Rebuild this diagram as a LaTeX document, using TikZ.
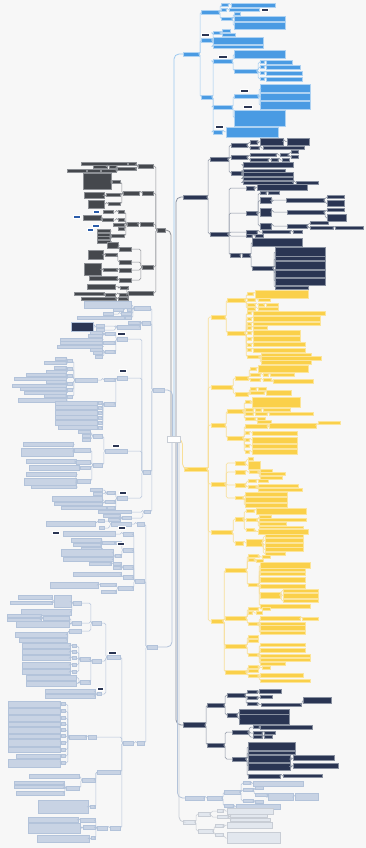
\documentclass[tikz,border=0pt]{standalone}
\usepackage{tikz}
\usetikzlibrary{calc,positioning}

\definecolor{xbg}{HTML}{F7F7F7}
\definecolor{xblue}{HTML}{4A9BE3}
\definecolor{xbluel}{HTML}{9CC9F0}
\definecolor{xnavy}{HTML}{2A3553}
\definecolor{xnavyl}{HTML}{8890A0}
\definecolor{xgold}{HTML}{FAD04A}
\definecolor{xgoldl}{HTML}{F8DF98}
\definecolor{xdark}{HTML}{45484D}
\definecolor{xdarkl}{HTML}{8C8F94}
\definecolor{xpale}{HTML}{C8D3E4}
\definecolor{xpalel}{HTML}{B3C3DA}
\definecolor{xgray}{HTML}{E2E7EE}
\definecolor{xgrayl}{HTML}{C8CDD5}
\definecolor{xtagb}{HTML}{2A5CAA}

\tikzset{
  box/.style={rectangle,inner sep=0pt,outer sep=0pt,line width=0.3pt},
  bl/.style={box,fill=xblue,draw=white!55!xblue},
  bll/.style={draw=xbluel,line width=0.5pt,rounded corners=1.5pt},
  nv/.style={box,fill=xnavy,draw=xnavyl},
  nvl/.style={draw=xnavyl,line width=0.5pt,rounded corners=1.5pt},
  gd/.style={box,fill=xgold,draw=white!45!xgold},
  gdl/.style={draw=xgoldl,line width=0.6pt,rounded corners=1.5pt},
  dk/.style={box,fill=xdark,draw=xdarkl},
  dkl/.style={draw=xdarkl,line width=0.5pt,rounded corners=1.5pt},
  lb/.style={box,fill=xpale,draw=xpalel},
  lbl/.style={draw=xpalel,line width=0.5pt,rounded corners=1.5pt},
  lbn/.style={box,fill=xnavy,draw=xpalel},
  lbnl/.style={lbl},
  gy/.style={box,fill=xgray,draw=xgrayl},
  gyl/.style={draw=xgrayl,line width=0.5pt,rounded corners=1.5pt},
  tag/.style={box,fill=xnavy,draw=white,minimum height=3},
  btag/.style={box,fill=xtagb,draw=white,minimum height=3},
  rootbox/.style={box,fill=white,draw=xgrayl,minimum width=13,minimum height=6},
  trunk/.style={line width=0.8pt,rounded corners=5pt}
}

% one box, left edge at x / right edge at x
\newcommand{\bx}[6]{\node[#1,minimum width=#5,minimum height=#6,anchor=west] (#2) at (#3,#4) {};}
\newcommand{\bxl}[6]{\node[#1,minimum width=#5,minimum height=#6,anchor=east] (#2) at (#3,#4) {};}
% children to the right: style, parent, prefix, left x, {y/width/height}
\newcommand{\rk}[5]{%
  \foreach \yy/\ww/\hh [count=\k] in {#5}{%
    \node[#1,minimum width=\ww,minimum height=\hh,anchor=west] (#3\k) at (#4,\yy) {};
    \draw[#1l] (#2.east) -- ++(1.2,0) |- (#3\k.west);}}
% children to the left: style, parent, prefix, right x, {y/width/height}
\newcommand{\lk}[5]{%
  \foreach \yy/\ww/\hh [count=\k] in {#5}{%
    \node[#1,minimum width=\ww,minimum height=\hh,anchor=east] (#3\k) at (#4,\yy) {};
    \draw[#1l] (#2.west) -- ++(-1.2,0) |- (#3\k.east);}}

\begin{document}
\begin{tikzpicture}[x=1pt,y=-1pt]
\fill[xbg] (0,0) rectangle (366,848);
\useasboundingbox (0,0) rectangle (366,848);

\coordinate (rc) at (174,439);

% main branches
\bx{bl}{B}{183}{54}{16}{4}
\bx{nv}{N}{183}{197}{24}{4}
\bx{gd}{G}{184}{469}{23}{4}
\bx{nv}{M}{183}{725}{22}{5}
\bx{lb}{R}{185}{798}{19}{4}
\bx{gy}{Q}{183}{822}{12}{4}
\bxl{dk}{D}{165}{230}{8}{4}
\bxl{lb}{P}{164}{390}{11}{4}
\bxl{lb}{PP}{157}{647}{10}{4}

\draw[bll,trunk] ([yshift=-3pt]rc) |- (B.west);
\draw[nvl,trunk] ([shift={(2,-3)}]rc) |- (N.west);
\draw[gdl,trunk] ([xshift=6.5pt]rc) -- ++(2,0) |- (G.west);
\draw[nvl,trunk] ([shift={(2,3)}]rc) |- (M.west);
\draw[lbl,trunk] ([shift={(3.5,3)}]rc) |- (R.west);
\draw[gyl,trunk] ([shift={(5,3)}]rc) |- (Q.west);
\draw[dkl,trunk] ([shift={(-3,-3)}]rc) |- (D.east);
\draw[lbl,trunk] ([shift={(-1.5,-3)}]rc) |- (P.east);
\draw[lbl,trunk] ([shift={(-2,3)}]rc) |- (PP.east);
\node[rootbox] (root) at (rc) {};

% blue branch
\rk{bl}{B}{b}{201}{12/18/4, 40/11/4, 97/11/4}
\rk{bl}{b1}{ba}{221}{5/7/3, 10/5/3, 19/11/3}
\rk{bl}{ba1}{baa}{231}{5/44/4}
\rk{bl}{ba2}{bab}{229}{10/30/3}
\rk{bl}{ba3}{bac}{234}{14/6/3, 19/51/5, 26/51/7}
\rk{bl}{b2}{bb}{213}{33/7/3, 41/50/7, 46.5/50/3}
\rk{bl}{bb1}{bba}{222}{31/8/3, 35/13/3}
\rk{bl}{b3}{bc}{213}{61/19/4, 107/19/4, 132/9/4}
\rk{bl}{bc1}{bca}{234}{54/51/8, 71/23/4}
\rk{bl}{bca2}{bcb}{260}{62/4/3, 67/4/3, 73/4/3, 79/4/3}
\rk{bl}{bcb1}{bcc}{266}{62/26/4}
\rk{bl}{bcb2}{bcd}{266}{67/34/4}
\rk{bl}{bcb3}{bce}{266}{73/36/4}
\rk{bl}{bcb4}{bcf}{266}{79/36/4}
\rk{bl}{bc2}{bcg}{234}{96/24/4, 118/51/16}
\rk{bl}{bcg1}{bch}{260}{88.5/50/8, 97/50/7, 105.5/50/8}
\rk{bl}{bc3}{bci}{226}{132/52/10}
\foreach \x/\y/\w [count=\i] in {201/35/8, 261/10/7, 218/57/9, 240/91/8, 243/107/9, 215/127/8}
  {\node[tag,minimum width=\w,anchor=west] (tb\i) at (\x,\y) {};}

% navy branch
\rk{nv}{N}{n}{210}{159/18/4, 234/18/4}
\rk{nv}{n1}{na}{231}{145/16/4, 157/16/4, 173/11/4}
\rk{nv}{na1}{naa}{250}{142/7/4, 148/9/3}
\rk{nv}{naa1}{nab}{260}{141.5/23/7}
\rk{nv}{nab1}{nac}{287}{141.5/22/7}
\rk{nv}{naa2}{nad}{263}{148/41/3}
\rk{nv}{na2}{nae}{250}{155/26/3, 160/18/3}
\rk{nv}{nae1}{naf}{280}{155/8/3}
\rk{nv}{naf1}{nag}{291}{152/7/3, 157/7/3}
\rk{nv}{nae2}{nah}{271}{160/7/3}
\rk{nv}{nah1}{nai}{282}{160/7/3}
\rk{nv}{na3}{naj}{243}{164.5/50/5, 170.5/42/3, 174.5/50/4, 178.5/50/3, 182.5/50/3}
\rk{nv}{naj5}{nak}{296}{182.5/22/3}
\rk{nv}{n2}{nb}{246}{188/8/4, 213/11/4, 232/11/4, 236/6/3}
\rk{nv}{n2}{nc}{230}{255/10/4}
\rk{nv}{nb1}{nba}{257}{187/50/6}
\rk{nv}{nb2}{nbb}{260}{193/6/3, 200.5/11/6, 212/11/8, 226/11/6}
\rk{nv}{nbb1}{nbc}{268}{193/11/3}
\rk{nv}{nbb2}{nbd}{286}{200/38/4}
\rk{nv}{nbd1}{nbe}{327}{197/17/3, 203.5/17/6}
\rk{nv}{nbb3}{nbf}{287}{212/37/4}
\rk{nv}{nbf1}{nbg}{327}{210/17/3, 218/19/7}
\rk{nv}{nbb4}{nbh}{287}{226/20/4}
\rk{nv}{nbh1}{nbi}{310}{223/18/3, 228/23/3}
\rk{nv}{nbi2}{nbj}{335}{228/28/3}
\rk{nv}{nb3}{nbk}{262}{232/28/3}
\rk{nv}{nbk1}{nbl}{293}{232/9/3}
\rk{nv}{nb4}{nbm}{255}{236/8/3}
\rk{nv}{nc1}{nca}{242}{255/8/4}
\rk{nv}{nca1}{ncb}{252}{242/50/8, 268/21/4}
\rk{nv}{ncb2}{ncc}{275}{251.5/50/9, 258.5/50/4, 265.5/50/8, 273.5/50/7, 281.5/50/7, 287.5/33/3}

% gold branch
\rk{gd}{G}{g}{211}{317/14/4, 387/21/4, 425/14/4, 484/14/4, 532/21/4, 621/12/4}
\rk{gd}{g1}{ga}{227}{300/18/4, 333/18/4}
\rk{gd}{ga1}{gaa}{247}{294/6/3, 300/8/3, 304.5/8/3, 308.5/8/3}
\rk{gd}{gaa1}{gab}{255}{294/53/8}
\rk{gd}{gaa2}{gac}{258}{300/12/3}
\rk{gd}{gaa3}{gad}{258}{304.5/6/3}
\rk{gd}{gad1}{gae}{266}{304.5/12/3}
\rk{gd}{gaa4}{gaf}{258}{308.5/20/3}
\rk{gd}{ga2}{gag}{247}{313/4/3, 318.5/4/3, 323.5/4/3, 328/4/3, 333/4/3, 339/4/3, 344.5/4/3, 350/4/3, 357/12/3}
\rk{gd}{gag1}{gah}{253}{313/72/3.5}
\rk{gd}{gag2}{gai}{253}{318.5/67/5}
\rk{gd}{gag3}{gaj}{253}{323.5/67/3}
\rk{gd}{gag4}{gak}{253}{328/14/3}
\rk{gd}{gag5}{gal}{253}{333/47/5}
\rk{gd}{gag6}{gam}{253}{339/47/5}
\rk{gd}{gag7}{gan}{253}{344.5/52/4}
\rk{gd}{gag8}{gao}{253}{350/52/4}
\rk{gd}{gag9}{gap}{261}{354.5/50/2.5, 358/60/3.5, 362.5/50/4}
\rk{gd}{g2}{gb}{235}{378/13/4, 394/13/4}
\rk{gd}{gb1}{gba}{250}{369/6/3, 375/10/3, 380/10/3}
\rk{gd}{gba1}{gbb}{258}{369/50/7}
\rk{gd}{gba2}{gbc}{263}{375/5/3}
\rk{gd}{gbc1}{gbd}{270}{375/24/3}
\rk{gd}{gba3}{gbe}{263}{380/8/3}
\rk{gd}{gbe1}{gbf}{273}{381.5/40/4}
\rk{gd}{gb2}{gbg}{250}{389/6/3, 393/14/3}
\rk{gd}{gbg1}{gbh}{258}{389/8/3}
\rk{gd}{gbg2}{gbi}{266}{393/25/5}
\rk{gd}{g3}{gc}{227}{411/16/4, 438/16/4}
\rk{gd}{gc1}{gca}{245}{402/5/3, 410/8/3, 414/8/3, 419/10/3}
\rk{gd}{gca1}{gcb}{252}{402.5/48/10}
\rk{gd}{gca2}{gcc}{255}{410/6/3}
\rk{gd}{gcc1}{gcd}{263}{410/27/3}
\rk{gd}{gca3}{gce}{255}{414/12/3}
\rk{gd}{gce1}{gcf}{269}{414/44/3}
\rk{gd}{gca4}{gcg}{257}{419/8/3, 422/14/3}
\rk{gd}{gc2}{gch}{245}{426/22/4, 433/4/3, 440/4/3, 446/4/3, 452/4/3}
\rk{gd}{gch1}{gci}{269}{425.5/47/5}
\rk{gd}{gci1}{gcj}{318}{423/22/3}
\rk{gd}{gch2}{gck}{252}{433/45/4}
\rk{gd}{gch3}{gcl}{252}{440/45/6}
\rk{gd}{gch4}{gcm}{252}{446/45/4}
\rk{gd}{gch5}{gcn}{252}{452/45/5}
\rk{gd}{g4}{gdd}{235}{463/10/4, 472/10/4, 485/10/4, 498/8/3}
\rk{gd}{gdd1}{gda}{248}{459/5/3, 465.5/12/8}
\rk{gd}{gdd2}{gdb}{249}{472/9/3}
\rk{gd}{gdb1}{gdc}{260}{470.5/12/3, 474/25/3, 477.5/22/3}
\rk{gd}{gdd3}{gde}{248}{481/8/3, 487/8/3}
\rk{gd}{gde1}{gdf}{258}{481/10/3}
\rk{gd}{gde2}{gdg}{258}{486/40/3, 489.5/44/3}
\rk{gd}{gdd4}{gdh}{245}{494.5/42/4, 500/42/5, 505.5/42/4}
\rk{gd}{g5}{ge}{235}{519/8/4, 543/8/4}
\rk{gd}{ge1}{gea}{246}{511/8/3, 520/11/3, 530/8/3}
\rk{gd}{gea1}{geb}{256}{511/50/6}
\rk{gd}{gea2}{gec}{259}{516.5/12/3, 520/47/3, 523.5/27/3, 527/44/2.5}
\rk{gd}{gea3}{ged}{258}{531.5/50/5}
\rk{gd}{ge2}{gee}{246}{543/16/7}
\rk{gd}{gee1}{gef}{265}{536/38/3, 540/38/4, 545/38/4, 549.5/38/4, 553.5/20/3}
\rk{gd}{g6}{gf}{225}{570/21/4, 618/21/4, 646/21/4, 672/21/4}
\rk{gd}{gf1}{gfa}{248}{556/10/3, 560/6/3, 585/10/3}
\rk{gd}{gfa1}{gfb}{262}{557/8/3}
\rk{gd}{gfa2}{gfc}{256}{560.5/7/3}
\rk{gd}{gfa3}{gfd}{260}{565/50/6, 570/45/3, 574/45/3, 580/45/5, 586.5/45/4, 595/20/6, 606/50/4}
\rk{gd}{gfd6}{gfe}{283}{590.5/35/3, 595.5/35/5, 601/35/3}
\rk{gd}{gf2}{gfg}{248}{609/10/3, 613/4/3, 624/10/3}
\rk{gd}{gfg1}{gfh}{262}{609/8/3}
\rk{gd}{gfg2}{gfi}{256}{613/6/3}
\rk{gd}{gfg3}{gfj}{260}{618.5/40/4, 623.5/45/3, 628/45/5, 633/45/3}
\rk{gd}{gfj1}{gfk}{302}{618.5/16/3}
\rk{gd}{gf3}{gfl}{248}{637/10/3, 641/10/3, 655/10/3}
\rk{gd}{gfl3}{gfm}{260}{645/45/3, 650.5/45/4, 655.5/50/3, 659.5/50/3, 663.5/25/3}
\rk{gd}{gf4}{gfn}{248}{667/10/3, 671/10/3, 676/10/3}
\rk{gd}{gfn1}{gfo}{262}{667.5/8/3}
\rk{gd}{gfn3}{gfp}{260}{675.5/43/4, 680.5/50/3}

% second navy branch
\rk{nv}{M}{m}{207}{705/17/4, 745/17/4}
\rk{nv}{m1}{ma}{227}{695/18/4, 715/10/4}
\rk{nv}{ma1}{maa}{247}{692/10/3, 698/10/3, 704/10/3}
\rk{nv}{maa1}{mab}{259}{691/22/4}
\rk{nv}{maa2}{mac}{260}{697/12/3}
\rk{nv}{maa3}{mad}{261}{704.5/40/3}
\rk{nv}{mad1}{mae}{303}{700/28/6}
\rk{nv}{ma2}{maf}{239}{711.5/50/5, 719.5/50/10}
\rk{nv}{m2}{mb}{232}{732/16/4, 759/14/4}
\rk{nv}{mb1}{mba}{253}{727/6/3, 733/9/3, 737/9/3}
\rk{nv}{mba1}{mbb}{260}{727/52/4}
\rk{nv}{mba2}{mbc}{264}{733/11/3}
\rk{nv}{mba3}{mbd}{264}{737/8/3}
\rk{nv}{mb2}{mbe}{248}{746.5/47/8, 752.5/47/3, 759/42/7, 766.5/42/7, 776/32/4}
\rk{nv}{mbe3}{mbf}{293}{758/41/5}
\rk{nv}{mbe4}{mbg}{293}{765.5/45/5}
\rk{nv}{mbe5}{mbh}{283}{776/39/3}

% pale right branch
\rk{lb}{R}{r}{207}{798/15/4}
\rk{lb}{r1}{ra}{224}{792/16/4, 806/9/3}
\rk{lb}{ra1}{rb}{243}{783/7/3, 790/10/3, 801/10/3}
\rk{lb}{rb1}{rc}{253}{783.5/50/5}
\rk{lb}{rb2}{rd}{255}{788/8/3, 794.5/12/3}
\rk{lb}{rd2}{re}{268}{797/25/7}
\rk{lb}{re1}{rf}{295}{797/23/7}
\rk{lb}{rb3}{rg}{255}{802/8/3}
\rk{lb}{ra2}{rh}{236}{807/44/5}

% grey branch
\rk{gy}{Q}{q}{198}{814/12/4, 831/15/4}
\rk{gy}{q1}{qa}{217}{811/6/3, 817/11/3}
\rk{gy}{qa1}{qb}{227}{811/46/6}
\rk{gy}{qa2}{qc}{230}{815.5/37/3, 819.5/40/3}
\rk{gy}{q2}{qd}{215}{826/8/3, 835/8/3}
\rk{gy}{qd1}{qe}{227}{825/45/6}
\rk{gy}{qd2}{qf}{227}{838/53/11}

% dark branch (left)
\lk{dk}{D}{d}{153}{166/15/4, 193/11/4, 224/13/4, 267/11/4, 293/25/4}
\lk{dk}{d1}{da}{136}{164/8/3, 169/19/3}
\lk{dk}{da1}{daa}{127}{164/46/3}
\lk{dk}{da2}{dab}{116}{166.5/7/3, 171/15/3}
\lk{dk}{dab1}{dac}{107}{166.5/14/3}
\lk{dk}{dab2}{dad}{100}{171/13/3}
\lk{dk}{dad1}{dae}{86}{171/19/3}
\lk{dk}{d2}{db}{139}{193/16/4}
\lk{dk}{db1}{dba}{120}{182/8/3, 195/14/3, 204/12/3}
\lk{dk}{dba1}{dbb}{111}{181.5/28/16}
\lk{dk}{dba2}{dbc}{104}{195.5/20/6}
\lk{dk}{dba3}{dbd}{104}{204/16/8}
\lk{dk}{d3}{dc}{138}{224/11/4}
\lk{dk}{dc1}{dd}{124}{212/6/3, 220/6/3, 224.5/11/3, 229/6/3, 236/13/3}
\lk{dk}{dd1}{dde}{113}{212/10/3}
\lk{dk}{dd2}{ddg}{113}{220/11/3}
\lk{dk}{ddg1}{ddh}{101}{217.5/18/5}
\lk{dk}{dd5}{ddj}{110}{231/13/3, 234.5/13/3, 238/13/3, 241.5/13/3}
\lk{dk}{d4}{de}{131}{249/12/4, 262/12/4, 270/12/4, 280/12/4}
\lk{dk}{de1}{dea}{118}{245.5/11/6}
\lk{dk}{de2}{deb}{117}{255/12/3}
\lk{dk}{deb1}{dec}{103}{254.5/15/9}
\lk{dk}{de3}{ded}{117}{270/14/3}
\lk{dk}{ded1}{dee}{101}{269/17/12}
\lk{dk}{de4}{def}{117}{278.5/28/4}
\lk{dk}{d5}{dg}{128}{288/8/3, 294.5/9/3, 299/10/3}
\lk{dk}{dg1}{dga}{115}{286.5/28/5}
\lk{dk}{dg2}{dgb}{115}{294.5/10/3}
\lk{dk}{dgb1}{dgc}{104}{294/30/3}
\lk{dk}{dg3}{dgd}{116}{299/35/3}
\foreach \x/\y/\w [count=\i] in {93/212/6, 73/217/7, 92/226/7, 87/230/6}
  {\node[btag,minimum width=\w,anchor=west] (td\i) at (\x,\y) {};}

% pale branch (left, upper)
\lk{lb}{P}{u}{150}{308/16/4, 323/8/4, 472/7/4, 512/6/3}
\lk{lb}{u1}{ua}{131}{304.5/47/7, 309.5/4/3, 314/10/3, 318/6/3}
\lk{lb}{ua2}{ub}{123}{309.5/10/3}
\lk{lb}{ua3}{uc}{113}{314/10/3}
\lk{lb}{ua4}{ud}{124}{318/47/3}
\lk{lb}{u2}{ue}{140}{322.5/12/3, 327/23/4}
\lk{lb}{ue2}{uf}{104}{326/8/3, 330/8/3}
\lk{lbn}{uf1}{ug}{93}{326.5/22/9}
\lk{lb}{u3}{uh}{127}{339/10/4, 378/10/4, 451/22/4, 498/10/4}
\lk{lb}{uh1}{ui}{115}{334/10/3, 343/12/3, 352/10/3}
\lk{lb}{ui1}{uj}{102}{332.5/12/3, 335.5/14/3}
\lk{lb}{ui2}{uk}{102}{339.5/42/3, 343/42/3, 346.5/45/3}
\lk{lb}{ui3}{ul}{102}{349.5/12/3, 353/9/3, 356.5/7/3}
\lk{lb}{uh2}{um}{115}{380/11/3, 404/11/4}
\lk{lb}{um1}{un}{97}{380/22/4}
\lk{lb}{un1}{uo}{72}{361/5/3, 369/5/3, 376/5/3, 383.5/5/3, 390/5/3, 396.5/5/3}
\lk{lb}{uo1}{up}{66}{359/11/3, 363/22/3}
\lk{lb}{uo2}{uq}{66}{368/12/3, 371.5/20/3}
\lk{lb}{uo3}{ur}{66}{375/40/3, 378.5/52/3}
\lk{lb}{uo4}{us}{66}{382/20/3, 385.5/54/3}
\lk{lb}{uo5}{ut}{66}{389/46/3, 392.5/42/3}
\lk{lb}{uo6}{uu}{66}{396/22/3, 400/48/4}
\lk{lb}{um2}{uv}{102}{403/4/3, 407.5/4/3, 412.5/4/3, 417.5/4/3, 422.5/4/3, 427.5/4/3}
\lk{lb}{uv1}{uw}{97}{403/42/4}
\lk{lb}{uv2}{ux}{97}{407.5/42/4}
\lk{lb}{uv3}{uy}{97}{412.5/42/5}
\lk{lb}{uv4}{uz}{97}{417.5/42/4}
\lk{lb}{uv5}{va}{97}{422.5/42/5}
\lk{lb}{uv6}{vb}{97}{427.5/39/4}
\lk{lb}{uh3}{vc}{102}{436/9/4, 465/9/4}
\lk{lb}{vc1}{vd}{90}{432/12/3, 436/8/3, 439.5/8/3}
\lk{lb}{vc2}{ve}{90}{450/16/4, 462/14/4, 468/10/3, 481/13/4}
\lk{lb}{ve1}{vf}{73}{444.5/50/4, 452/52/8}
\lk{lb}{ve2}{vg}{76}{461.5/50/4}
\lk{lb}{ve3}{vh}{79}{468/50/5}
\lk{lb}{ve4}{vi}{76}{474.5/50/4, 481.5/52/7, 487/45/3}
\lk{lb}{uh4}{vj}{115}{493/8/3, 502/10/3, 508/8/3}
\lk{lb}{vj1}{vk}{102}{490/12/3, 493.5/9/3}
\lk{lb}{vj2}{vl}{102}{499/50/5, 503.5/48/3}
\lk{lb}{vj3}{vm}{106}{508/45/3}
\lk{lb}{u4}{vn}{131}{512/33/3, 518/9/3}
\lk{lb}{vn2}{vo}{120}{516/17/3, 519.5/12/3}

% pale branch (left, lower)
\lk{lb}{PP}{w}{144}{524/7/4, 581/9/4, 743/7/4}
\lk{lb}{w1}{wa}{131}{524/20/4}
\lk{lb}{wa1}{wb}{104}{521/6/3, 528/5/3}
\lk{lb}{wb1}{wc}{95}{523.5/49/5}
\lk{lb}{w2}{wd}{133}{534/10/4, 550/10/4, 567/10/4, 577/10/4, 588/15/4}
\lk{lb}{wd1}{we}{115}{534/52/5}
\lk{lb}{wd2}{wf}{121}{543/6/3, 556/6/3}
\lk{lb}{wf1}{wg}{114}{543/12/3}
\lk{lb}{wg1}{wh}{101}{540/30/4, 544.5/28/3, 548.5/20/3}
\lk{lb}{wf2}{wi}{113}{552.5/52/7, 559.5/50/4}
\lk{lb}{wd3}{wj}{121}{564/8/3, 568/8/3}
\lk{lb}{wj1}{wk}{111}{564/22/3}
\lk{lb}{wd4}{wl}{121}{574.5/48/4}
\lk{lb}{wd5}{wm}{116}{585/16/3, 592/15/3}
\lk{lb}{wm1}{wn}{98}{585/48/6}
\lk{lb}{w3}{wo}{133}{743/10/4}
\lk{lb}{wo1}{wp}{120}{657/13/4, 772/23/4, 828/10/4}
\lk{lb}{wo1}{wq}{96}{737/8/4}
\lk{lb}{wp1}{wr}{101}{623/9/4, 661/9/4, 694/4/3}
\lk{lb}{wr1}{ws}{81}{603/8/4, 623/9/4, 631/12/4}
\lk{lb}{ws1}{wt}{71}{601.5/17/12, 612/50/6}
\lk{lb}{wt1}{wu}{52}{597.5/34/4, 602.5/42/3}
\lk{lb}{ws2}{wv}{69}{618/26/4, 624.5/53/6}
\lk{lb}{wv1}{ww}{41}{616/34/3, 619.5/34/2.5}
\lk{lb}{ws3}{wx}{67}{634.5/52/5, 640/48/4}
\lk{lb}{wr2}{wy}{90}{659/10/4, 682/10/4}
\lk{lb}{wy1}{wz}{76}{646/4/3, 652/4/3, 658/4/3, 665/4/3, 672/4/3}
\lk{lb}{wz1}{xa}{70}{646/48/5}
\lk{lb}{wz2}{xb}{70}{652/48/5}
\lk{lb}{wz3}{xc}{70}{658/48/5}
\lk{lb}{wz4}{xd}{70}{665/48/6}
\lk{lb}{wz5}{xe}{70}{672/48/5}
\lk{lb}{wy2}{xf}{76}{677.5/50/5, 683.5/50/5}
\lk{lb}{wr3}{xg}{95}{691/50/4, 696/50/4}
\lk{lb}{wq1}{xh}{86}{737/17/4}
\lk{lb}{xh1}{xi}{65}{704/4/3, 711/4/3, 718/4/3, 724/4/3, 730/4/3, 736/4/3, 742.5/4/3, 749.5/4/3, 756/4/3, 763/4/3}
\lk{lb}{xi1}{xj}{60}{704/52/6}
\lk{lb}{xi2}{xk}{60}{711/52/6}
\lk{lb}{xi3}{xl}{60}{718/52/6}
\lk{lb}{xi4}{xm}{60}{724/52/4}
\lk{lb}{xi5}{xn}{60}{730/52/6}
\lk{lb}{xi6}{xo}{60}{736/52/4}
\lk{lb}{xi7}{xp}{60}{742.5/52/7}
\lk{lb}{xi8}{xq}{60}{749.5/52/5}
\lk{lb}{xi9}{xr}{60}{756/44/4}
\lk{lb}{xi10}{xs}{60}{763/52/8}
\lk{lb}{wp2}{xt}{95}{780/13/4, 807/5/3}
\lk{lb}{xt1}{xu}{79}{776/50/4, 788/13/4}
\lk{lb}{xu2}{xv}{64}{783/50/3, 787/50/3, 793/48/4}
\lk{lb}{xt2}{xw}{88}{806.5/50/13}
\lk{lb}{wp3}{xx}{107}{828/10/4}
\lk{lb}{xx1}{xy}{95}{820/15/4, 827/12/4, 838/4/3}
\lk{lb}{xy1}{xz}{78}{819.5/50/5}
\lk{lb}{xy2}{ya}{80}{828.5/52/10}
\lk{lb}{xy3}{yb}{89}{838.5/52/7}
\foreach \x/\y/\w [count=\i] in {117/334/8, 119/371/7, 112/446/7, 119/493/7, 118/528/7, 52/533/7, 117/544/7, 97/689/6, 108/653/8}
  {\node[tag,minimum width=\w,anchor=west] (tp\i) at (\x,\y) {};}

\end{tikzpicture}
\end{document}
